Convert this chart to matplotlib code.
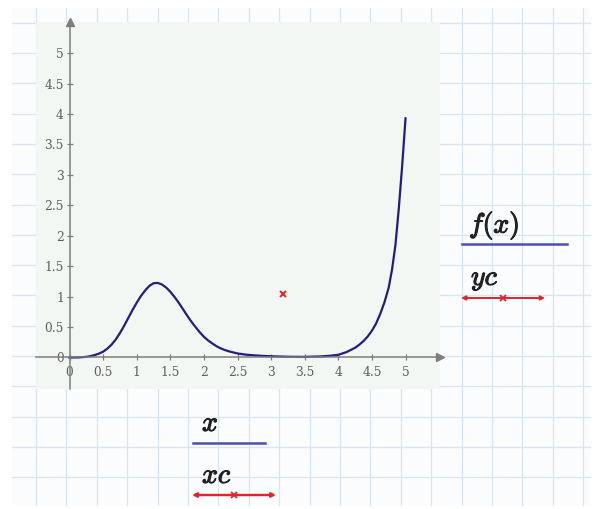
import numpy as np
import matplotlib
matplotlib.use("Agg")
import matplotlib.pyplot as plt
import matplotlib.patheffects as pe
from matplotlib.patches import Rectangle

plt.rcParams['mathtext.fontset'] = 'cm'

# curve f(x)
x_vals = [0, 0.125, 0.25, 0.3125, 0.375, 0.4375, 0.5, 0.5625, 0.625, 0.6875,
          0.75, 0.8125, 0.875, 0.9375, 1.0, 1.0625, 1.125, 1.1875, 1.25, 1.3125,
          1.375, 1.4375, 1.5, 1.5625, 1.625, 1.6875, 1.75, 1.8125, 1.875, 1.9375,
          2.0, 2.0625, 2.125, 2.1875, 2.25, 2.3125, 2.375, 2.5, 2.625, 2.75,
          2.875, 3.0, 3.25, 3.5, 3.75, 3.875, 4.0, 4.125, 4.25, 4.3125, 4.375,
          4.4375, 4.5, 4.5625, 4.625, 4.6875, 4.75, 4.8, 4.85, 4.9, 4.95, 5.0]
f_vals = [0, 0.001, 0.01, 0.022, 0.04, 0.063, 0.095, 0.145, 0.21, 0.295,
          0.40, 0.52, 0.65, 0.78, 0.90, 1.01, 1.10, 1.175, 1.22, 1.225,
          1.20, 1.15, 1.08, 0.995, 0.90, 0.795, 0.69, 0.59, 0.50, 0.415,
          0.34, 0.28, 0.23, 0.185, 0.15, 0.122, 0.10, 0.066, 0.046, 0.035,
          0.026, 0.02, 0.012, 0.010, 0.018, 0.028, 0.044, 0.09, 0.16, 0.21, 0.27,
          0.345, 0.44, 0.56, 0.72, 0.91, 1.15, 1.45, 1.85, 2.45, 3.15, 3.93]

# single point
xc = [3.17]
yc = [1.05]

ticks = [0, 0.5, 1, 1.5, 2, 2.5, 3, 3.5, 4, 4.5, 5]
tick_labels = ['0', '0.5', '1', '1.5', '2', '2.5', '3', '3.5', '4', '4.5', '5']

W, H = 594, 509
fig = plt.figure(figsize=(W / 100, H / 100), dpi=100)
fig.patch.set_facecolor('white')

# grid paper behind everything (pixel coords)
bg = fig.add_axes([0, 0, 1, 1])
bg.set_xlim(0, W)
bg.set_ylim(H, 0)
bg.axis('off')
bg.add_patch(Rectangle((12, 8), 578, 497, fc='#fafcfd', ec='none'))
for gx in np.arange(36, 590, 30.4):
    bg.plot([gx, gx], [8, 505], color='#d8e5f3', lw=0.9)
for gy in np.arange(22.7, 505, 30.3):
    bg.plot([12, 590], [gy, gy], color='#d8e5f3', lw=0.9)

# plot region
ax = fig.add_axes([36 / W, 1 - 389 / H, 404 / W, 367 / H])
ax.set_facecolor('#f3f7f3')
ax.set_xlim(-0.4985, 5.513)
ax.set_ylim(-0.518, 5.513)

axis_col = '#7d7d7d'
for s in ['top', 'right']:
    ax.spines[s].set_visible(False)
ax.spines['left'].set_position(('data', 0))
ax.spines['bottom'].set_position(('data', 0))
for s in ['left', 'bottom']:
    ax.spines[s].set_color(axis_col)
    ax.spines[s].set_linewidth(1.1)
ax.plot(1, 0, '>', color=axis_col, ms=6, transform=ax.get_yaxis_transform(), clip_on=False)
ax.plot(0, 1, '^', color=axis_col, ms=6, transform=ax.get_xaxis_transform(), clip_on=False)

ax.set_xticks(ticks)
ax.set_xticklabels(tick_labels)
ax.set_yticks(ticks)
ax.set_yticklabels(tick_labels)
ax.tick_params(direction='inout', length=5, width=0.9, color=axis_col,
               labelcolor='#5e5e5e', labelsize=8.8, pad=1.5)
ax.tick_params(axis='x', pad=3.5)
for lab in ax.get_xticklabels() + ax.get_yticklabels():
    lab.set_family('DejaVu Serif')

ax.plot(x_vals, f_vals, color='#241d80', lw=1.6, solid_joinstyle='round')
ax.plot(xc, yc, 'x', color='#e3222a', ms=4, mew=1.4)

# trace labels
eff = [pe.withStroke(linewidth=0.8, foreground='#222222')]
curve_col = '#4d4db8'
red = '#e3222a'
arr = dict(arrowstyle='<->', color=red, lw=1.4, mutation_scale=6, shrinkA=0, shrinkB=0)

bg.text(469, 225, r'$f(x)$', fontsize=20, color='#222222', va='center', path_effects=eff)
bg.plot([462, 567], [244, 244], color=curve_col, lw=1.8)
bg.text(471, 278, r'$yc$', fontsize=20, color='#222222', va='center', path_effects=eff)
bg.annotate('', xy=(545, 298), xytext=(461, 298), arrowprops=arr)
bg.plot([503], [298], 'x', color=red, ms=4, mew=1.3)

bg.text(202, 423, r'$x$', fontsize=20, color='#222222', va='center', path_effects=eff)
bg.plot([193, 265], [443, 443], color=curve_col, lw=1.8)
bg.text(202, 475, r'$xc$', fontsize=20, color='#222222', va='center', path_effects=eff)
bg.annotate('', xy=(276, 495), xytext=(192, 495), arrowprops=dict(arr, lw=1.7))
bg.plot([234], [495], 'x', color=red, ms=4, mew=1.3)

fig.savefig('out.png', dpi=100)
